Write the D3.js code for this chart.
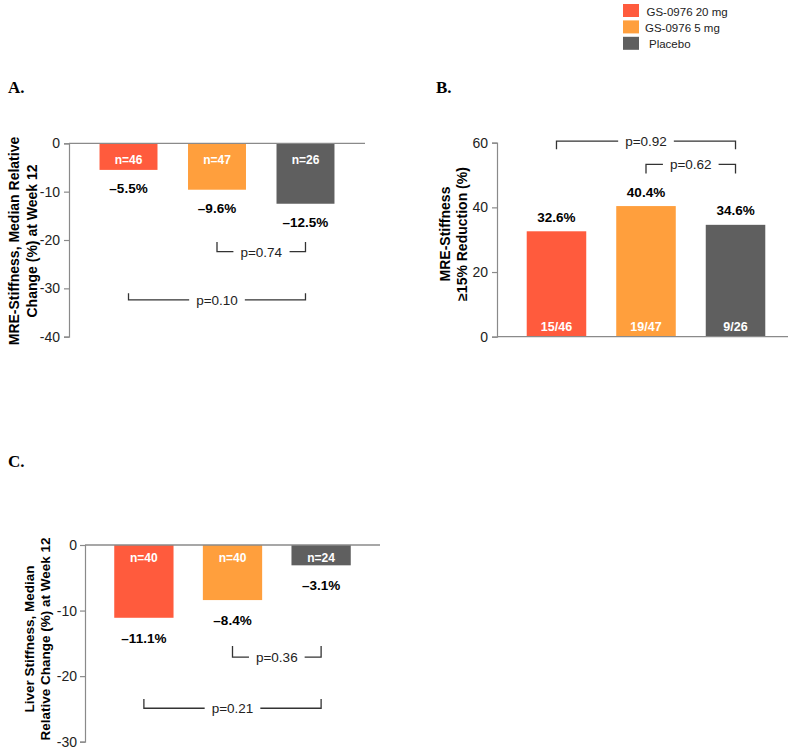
<!DOCTYPE html>
<html>
<head>
<meta charset="utf-8">
<script src="https://cdn.jsdelivr.net/npm/d3@7"></script>
<style>
  html, body { margin: 0; padding: 0; background: #fff; }
  svg { display: block; font-family: "Liberation Sans", Arial, sans-serif; }
</style>
</head>
<body>
<svg id="chart" width="800" height="750"></svg>
<script>
// ---------- DATA ----------
const groups = ["GS-0976 20 mg", "GS-0976 5 mg", "Placebo"];

const aValues = [-5.5, -9.6, -12.5];
const aLabels = ["\u20135.5%", "\u20139.6%", "\u201312.5%"];
const aCounts = ["n=46", "n=47", "n=26"];
const aTicks = [0, -10, -20, -30, -40];
const aBrackets = [
  { from: 1, to: 2, label: "p=0.74", line: -22.4, tip: -20.4 },
  { from: 0, to: 2, label: "p=0.10", line: -32.4, tip: -31.0 }
];

const bValues = [32.6, 40.4, 34.6];
const bLabels = ["32.6%", "40.4%", "34.6%"];
const bCounts = ["15/46", "19/47", "9/26"];
const bTicks = [0, 20, 40, 60];
const bBrackets = [
  { from: 0, to: 2, label: "p=0.92", line: 60.5, tip: 58.0 },
  { from: 1, to: 2, label: "p=0.62", line: 53.3, tip: 50.5 }
];

const cValues = [-11.1, -8.4, -3.1];
const cLabels = ["\u201311.1%", "\u20138.4%", "\u20133.1%"];
const cCounts = ["n=40", "n=40", "n=24"];
const cTicks = [0, -10, -20, -30];
const cBrackets = [
  { from: 1, to: 2, label: "p=0.36", line: -17.1, tip: -15.4 },
  { from: 0, to: 2, label: "p=0.21", line: -24.9, tip: -23.5 }
];

// ---------- STYLE ----------
const barColors = ["#FF5B3D", "#FF9F3D", "#5F5F5F"];
const axisColor = "#8a8a8a";
const svg = d3.select("#chart");

function drawPanel(o) {
  const g = svg.append("g");
  const x = d3.scaleBand().domain(groups).range([o.x0, o.x1]).paddingInner(o.pi).paddingOuter(o.po);
  const y = d3.scaleLinear().domain(o.domain).range([o.yBottom, o.yTop]);

  // title
  g.append("text").attr("x", o.titleX).attr("y", o.titleY)
    .attr("font-family", "'Liberation Serif', 'Times New Roman', serif")
    .attr("font-weight", "bold").attr("font-size", 17).attr("fill", "#000")
    .text(o.title);

  // y axis
  const ya = g.append("g").attr("transform", `translate(${o.x0},0)`)
    .call(d3.axisLeft(y).tickValues(o.ticks).tickSize(5).tickPadding(o.tickPad).tickFormat(d => String(d)));
  ya.select(".domain").attr("stroke", axisColor).attr("stroke-width", 1.2);
  ya.selectAll(".tick line").attr("stroke", axisColor).attr("stroke-width", 1.2);
  ya.selectAll(".tick text").attr("font-size", 14).attr("fill", "#222")
    .attr("font-family", "'Liberation Sans', Arial, sans-serif");

  // bars
  g.selectAll("rect.bar").data(o.values).join("rect")
    .attr("class", "bar")
    .attr("x", (d, i) => x(groups[i]))
    .attr("width", x.bandwidth())
    .attr("y", d => Math.min(y(0), y(d)))
    .attr("height", d => Math.abs(y(d) - y(0)))
    .attr("fill", (d, i) => barColors[i]);

  // baseline (x axis)
  g.append("line").attr("x1", o.x0).attr("x2", o.lineEnd)
    .attr("y1", y(0)).attr("y2", y(0))
    .attr("stroke", axisColor).attr("stroke-width", 1.3);

  // counts inside bars
  g.selectAll("text.cnt").data(o.counts).join("text")
    .attr("class", "cnt")
    .attr("x", (d, i) => x(groups[i]) + x.bandwidth() / 2)
    .attr("y", y(0) + o.countOffset)
    .attr("text-anchor", "middle").attr("font-weight", "bold")
    .attr("font-size", o.countSize).attr("fill", "#fff")
    .text(d => d);

  // value labels
  g.selectAll("text.val").data(o.values).join("text")
    .attr("class", "val")
    .attr("x", (d, i) => x(groups[i]) + x.bandwidth() / 2)
    .attr("y", d => y(d) + (d < 0 ? o.valOffsetNeg : o.valOffsetPos))
    .attr("text-anchor", "middle").attr("font-weight", "bold")
    .attr("font-size", 13.5).attr("fill", "#000")
    .text((d, i) => o.labels[i]);

  // brackets
  o.brackets.forEach(b => {
    const xa = x(groups[b.from]) + x.bandwidth() / 2;
    const xb = x(groups[b.to]) + x.bandwidth() / 2;
    const yl = y(b.line), yt = y(b.tip);
    g.append("path")
      .attr("d", `M${xa},${yt}V${yl}H${xb}V${yt}`)
      .attr("fill", "none").attr("stroke", "#333").attr("stroke-width", 1.3);
    const t = g.append("text")
      .attr("x", (xa + xb) / 2).attr("y", yl + 5)
      .attr("text-anchor", "middle").attr("font-size", 13.5).attr("fill", "#222")
      .text(b.label);
    const bb = t.node().getBBox();
    g.insert("rect", () => t.node())
      .attr("x", bb.x - 7).attr("y", yl - 3).attr("width", bb.width + 14).attr("height", 6)
      .attr("fill", "#fff");
  });

  // y label (two rotated lines)
  o.ylab.forEach((line, i) => {
    g.append("text")
      .attr("transform", `translate(${o.ylabX[i]},${o.ylabY}) rotate(-90)`)
      .attr("text-anchor", "middle").attr("font-weight", "bold")
      .attr("font-size", o.ylabSize).attr("fill", "#000")
      .text(line);
  });
}

drawPanel({
  title: "A.", titleX: 8, titleY: 93,
  x0: 69, x1: 365, lineEnd: 365, pi: 0.345, po: 0.345,
  yTop: 143.3, yBottom: 336.7, domain: [-40, 0], ticks: aTicks, tickPad: 4,
  values: aValues, labels: aLabels, counts: aCounts,
  countOffset: 21, countSize: 12, valOffsetNeg: 23, valOffsetPos: 0,
  brackets: aBrackets,
  ylab: ["MRE-Stiffness, Median Relative", "Change (%) at Week 12"],
  ylabX: [18.5, 36.5], ylabY: 241, ylabSize: 14
});

drawPanel({
  title: "B.", titleX: 436, titleY: 93,
  x0: 497, x1: 795, lineEnd: 788, pi: 0.335, po: 0.332,
  yTop: 142.7, yBottom: 336.7, domain: [0, 60], ticks: bTicks, tickPad: 4,
  values: bValues, labels: bLabels, counts: bCounts,
  countOffset: -6, countSize: 12.5, valOffsetNeg: 0, valOffsetPos: -9.5,
  brackets: bBrackets,
  ylab: ["MRE-Stiffness", "\u226515% Reduction (%)"],
  ylabX: [450, 467], ylabY: 234, ylabSize: 14
});

drawPanel({
  title: "C.", titleX: 8, titleY: 467,
  x0: 85, x1: 380, lineEnd: 380, pi: 0.331, po: 0.33,
  yTop: 545, yBottom: 741.7, domain: [-30, 0], ticks: cTicks, tickPad: 3,
  values: cValues, labels: cLabels, counts: cCounts,
  countOffset: 17, countSize: 12, valOffsetNeg: 25, valOffsetPos: 0,
  brackets: cBrackets,
  ylab: ["Liver Stiffness, Median", "Relative Change (%) at Week 12"],
  ylabX: [34, 49.5], ylabY: 639, ylabSize: 13.5
});

// ---------- LEGEND ----------
const legend = svg.append("g");
const legendTextX = [646.5, 645, 649];
groups.forEach((name, i) => {
  legend.append("rect").attr("x", 623).attr("y", 4 + i * 16.4)
    .attr("width", 16).attr("height", 13).attr("fill", barColors[i]);
  legend.append("text").attr("x", legendTextX[i]).attr("y", 15.5 + i * 16.4)
    .attr("font-size", 11.5).attr("fill", "#222").text(name);
});
</script>
</body>
</html>
